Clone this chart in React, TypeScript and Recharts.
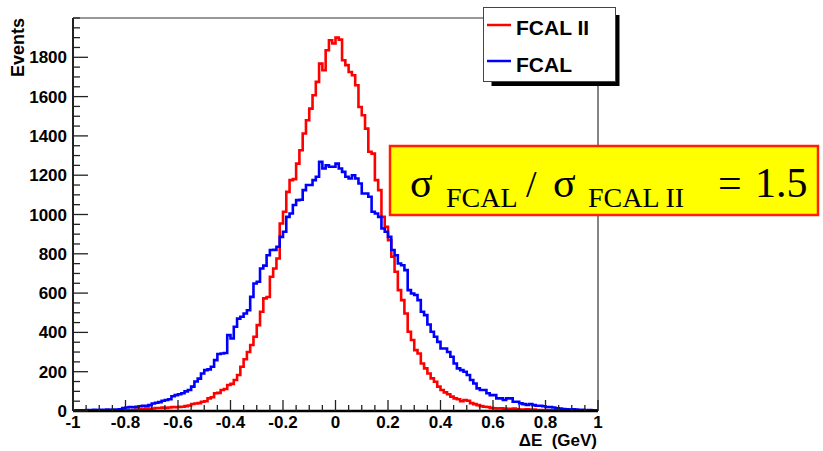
import React from 'react';
import { ComposedChart, Line, XAxis, YAxis, ReferenceLine } from 'recharts';

// Histogram definition: 160 bins from -1 to 1
const binStart = -1;
const binWidth = 0.0125;

const seriesNames = ['FCAL II', 'FCAL'];
const seriesColors = ['#ff0000', '#0000ff'];

const fcal2Counts = [
  0, 0, 1, 0, 0, 1, 0, 1, 1, 0, 2, 1, 2, 2, 3, 2, 4, 3, 5,
  8, 9, 10, 12, 10, 13, 15,
  15, 17, 16, 18, 20, 19, 21,
  22, 25, 28, 36, 38, 40, 47, 50,
  64, 70, 90, 92, 107, 112, 132, 138, 158, 183,
  225, 263, 300, 336, 378, 437, 505, 573, 580, 683,
  725, 776, 954, 1014, 1115, 1175, 1180, 1259, 1327, 1412,
  1480, 1539, 1607, 1675, 1768, 1734, 1836, 1887, 1870, 1900,
  1890, 1785, 1760, 1725, 1709, 1658, 1547, 1505, 1437, 1319,
  1310, 1175, 1124, 988, 937, 869, 785, 709, 615, 564,
  496, 403, 361, 310, 293, 242, 217, 191, 166, 149,
  124, 107, 95, 85, 73, 64, 60,
  50, 56, 52, 40, 35, 30, 25, 22, 20, 16,
  14, 13, 14, 12, 11, 10, 12, 9,
  8, 7, 9, 6, 7, 5,
  5, 4, 5, 3, 4, 3, 3,
  2, 3, 2, 1, 2, 1, 1, 0, 1, 0, 1,
];

const fcalCounts = [
  2, 3, 4, 3, 5, 4, 6, 5, 6, 5, 7, 6, 8, 7, 9,
  15, 18, 20, 19, 22,
  24, 27, 26, 30,
  38, 42, 45,
  52, 56, 60,
  75, 81, 85,
  90, 100, 107, 124, 150, 165, 191, 208,
  212, 225, 259, 290, 293, 295, 386, 369, 429, 470,
  480, 496, 513, 581, 649, 658, 725, 740, 793, 819,
  820, 836, 886, 912, 988, 1005, 1048, 1073, 1075, 1124,
  1150, 1150, 1175, 1192, 1268, 1234, 1251, 1243, 1243, 1259,
  1234, 1217, 1192, 1183, 1200, 1183, 1158, 1107, 1107, 1090,
  1014, 1005, 988, 929, 912, 886, 819, 793, 751, 742,
  717, 615, 598, 590, 564, 505, 488, 440, 403, 378,
  352, 318, 318, 300, 276, 242, 217,
  208, 200, 183, 158, 140, 115, 107, 107, 90, 81,
  81, 64, 64, 56, 64, 64, 47, 47, 39, 35,
  31, 36, 30, 27, 27, 24, 20, 20, 18, 14,
  13, 10, 9, 8, 9, 7, 5, 6, 4, 5, 3, 4,
];

const xMajorTicks = [-1, -0.8, -0.6, -0.4, -0.2, 0, 0.2, 0.4, 0.6, 0.8, 1];
const xAllTicks = [
  -1, -0.95, -0.9, -0.85, -0.8, -0.75, -0.7, -0.65, -0.6, -0.55, -0.5, -0.45, -0.4, -0.35, -0.3, -0.25,
  -0.2, -0.15, -0.1, -0.05, 0, 0.05, 0.1, 0.15, 0.2, 0.25, 0.3, 0.35, 0.4, 0.45, 0.5, 0.55, 0.6, 0.65,
  0.7, 0.75, 0.8, 0.85, 0.9, 0.95, 1,
];
const yMajorTicks = [0, 200, 400, 600, 800, 1000, 1200, 1400, 1600, 1800];
const yAllTicks = [
  0, 50, 100, 150, 200, 250, 300, 350, 400, 450, 500, 550, 600, 650, 700, 750, 800, 850, 900, 950,
  1000, 1050, 1100, 1150, 1200, 1250, 1300, 1350, 1400, 1450, 1500, 1550, 1600, 1650, 1700, 1750,
  1800, 1850, 1900, 1950, 2000,
];

const data = fcal2Counts.map((v, i) => ({
  x: Number((binStart + i * binWidth).toFixed(4)),
  fcal2: v,
  fcal: fcalCounts[i],
}));
data.push({ x: 1, fcal2: fcal2Counts[fcal2Counts.length - 1], fcal: fcalCounts[fcalCounts.length - 1] });

const sansBold = { fontFamily: '"Liberation Sans", Arial, sans-serif', fontWeight: 700 as const };
const serif = { fontFamily: '"Liberation Serif", "Times New Roman", serif' };

const isIn = (arr: number[], v: number) => arr.some((m) => Math.abs(m - v) < 1e-6);

const XTick = (props: any) => {
  const { x, y, payload } = props;
  const v = payload.value as number;
  const major = isIn(xMajorTicks, v);
  return (
    <g>
      <line x1={x} y1={y} x2={x} y2={y - (major ? 11 : 6)} stroke="#222" strokeWidth={1.3} />
      {major && (
        <text x={x} y={y + 17} textAnchor="middle" fontSize={17} fill="#000" style={sansBold}>
          {String(v)}
        </text>
      )}
    </g>
  );
};

const YTick = (props: any) => {
  const { x, y, payload } = props;
  const v = payload.value as number;
  const major = isIn(yMajorTicks, v);
  return (
    <g>
      <line x1={x} y1={y} x2={x + (major ? 15 : 7)} y2={y} stroke="#222" strokeWidth={1.3} />
      {major && (
        <text x={x - 6} y={y + 6} textAnchor="end" fontSize={17} fill="#000" style={sansBold}>
          {String(v)}
        </text>
      )}
    </g>
  );
};

export default function App() {
  return (
    <div style={{ position: 'absolute', left: 0, top: 0, width: 823, height: 451, background: '#fff' }}>
      <ComposedChart
        width={823}
        height={451}
        data={data}
        margin={{ top: 18, right: 225, bottom: 0, left: 0 }}
      >
        <XAxis
          dataKey="x"
          type="number"
          domain={[-1, 1]}
          ticks={xAllTicks}
          interval={0}
          tickLine={false}
          tickSize={0}
          tickMargin={0}
          tick={<XTick />}
          height={40}
          axisLine={{ stroke: '#000', strokeWidth: 2.5 }}
          allowDataOverflow
        />
        <YAxis
          type="number"
          domain={[0, 2000]}
          ticks={yAllTicks}
          interval={0}
          tickLine={false}
          tickSize={0}
          tickMargin={0}
          tick={<YTick />}
          width={73}
          axisLine={{ stroke: '#222', strokeWidth: 2 }}
          allowDataOverflow
        />
        <ReferenceLine y={2000} stroke="#333" strokeWidth={1.2} />
        <ReferenceLine x={1} stroke="#333" strokeWidth={1.2} />
        <Line
          type="stepAfter"
          dataKey="fcal2"
          name={seriesNames[0]}
          stroke={seriesColors[0]}
          strokeWidth={2.6}
          dot={false}
          isAnimationActive={false}
        />
        <Line
          type="stepAfter"
          dataKey="fcal"
          name={seriesNames[1]}
          stroke={seriesColors[1]}
          strokeWidth={2.6}
          dot={false}
          isAnimationActive={false}
        />
      </ComposedChart>
      <svg
        width={823}
        height={451}
        style={{ position: 'absolute', left: 0, top: 0, pointerEvents: 'none' }}
      >
        {/* Axis titles */}
        <text transform="translate(24,18) rotate(-90)" textAnchor="end" fontSize={18} fill="#000" style={sansBold}>
          Events
        </text>
        <text x={597} y={446} textAnchor="end" fontSize={17} fill="#000" style={{ ...sansBold, whiteSpace: 'pre' }}>
          {'ΔE  (GeV)'}
        </text>

        {/* Legend */}
        <rect x={491.5} y={15} width={128} height={71} fill="#000" />
        <rect x={483.5} y={7.5} width={132} height={74} fill="#fff" stroke="#444" strokeWidth={1} />
        <line x1={487} y1={25} x2={511} y2={25} stroke={seriesColors[0]} strokeWidth={2.5} />
        <text x={516} y={35} fontSize={21} fill="#000" style={sansBold}>
          {seriesNames[0]}
        </text>
        <line x1={487} y1={61} x2={511} y2={61} stroke={seriesColors[1]} strokeWidth={2.5} />
        <text x={516} y={71.5} fontSize={21} fill="#000" style={sansBold}>
          {seriesNames[1]}
        </text>

        {/* Annotation box */}
        <rect x={390} y={146} width={428} height={69} fill="#ffff00" stroke="#ff2000" strokeWidth={2.5} />
        <text x={410} y={197} fontSize={42} fill="#000" style={serif}>σ</text>
        <text x={446} y={207} fontSize={28} fill="#000" style={serif}>FCAL</text>
        <text x={526} y={197} fontSize={38} fill="#000" style={serif}>/</text>
        <text x={553} y={197} fontSize={42} fill="#000" style={serif}>σ</text>
        <text x={588} y={207} fontSize={28} fill="#000" style={serif}>FCAL II</text>
        <text x={718} y={197} fontSize={42} fill="#000" style={serif}>=</text>
        <text x={755} y={197} fontSize={42} fill="#000" style={serif}>1.5</text>
      </svg>
    </div>
  );
}
